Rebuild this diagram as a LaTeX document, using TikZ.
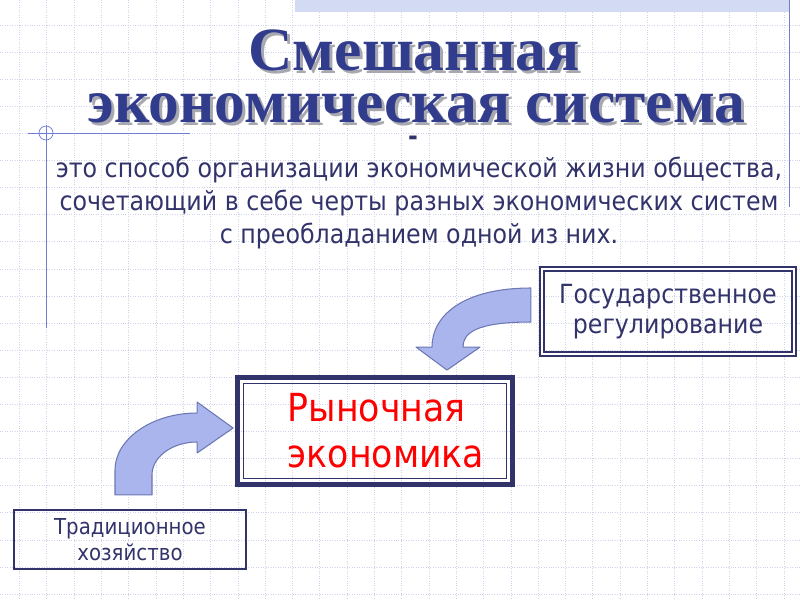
\documentclass[tikz,border=0pt]{standalone}
\usepackage{fontspec}
\setmainfont{DejaVu Sans}[FakeStretch=0.9]
\newfontfamily\headfont{Liberation Serif}
\usepackage{tikz}
\usetikzlibrary{positioning,calc}
\definecolor{SlideNavy}{HTML}{33336B}
\definecolor{SlideTitle}{HTML}{323C8C}
\definecolor{SlideShadow}{HTML}{A8A8B0}
\definecolor{SlideGrid}{HTML}{CFD2EA}
\definecolor{SlideRule}{HTML}{6E7ED6}
\definecolor{SlideBand}{HTML}{D3DAF4}
\definecolor{ArrowFill}{HTML}{A9B5EC}
\definecolor{ArrowEdge}{HTML}{6C78B4}
\definecolor{MarketRed}{HTML}{FF0000}

\begin{document}
\begin{tikzpicture}[x=0.02cm,y=-0.02cm,
    titletext/.style={font=\headfont\bfseries\fontsize{35}{40}\selectfont,anchor=base,inner sep=0pt},
    bodytext/.style={text=SlideNavy,align=center,inner sep=0pt},
    blockarrow/.style={fill=ArrowFill,draw=ArrowEdge,line width=0.6pt,line join=round}]

  % Background sheet with dotted grid
  \useasboundingbox (0,0) rectangle (800,600);
  \fill[white] (0,0) rectangle (800,600);
  \foreach \i in {0,...,28}
    \draw[SlideGrid,densely dotted] ({19.5+27.3*\i},0) -- ({19.5+27.3*\i},600);
  \foreach \j in {0,...,21}
    \draw[SlideGrid,densely dotted] (0,{25+27.1*\j}) -- (800,{25+27.1*\j});

  % Top band and thin rules
  \fill[SlideBand] (295,0) rectangle (789,12);
  \draw[SlideRule] (789,0) -- (789,207);
  \draw[SlideRule] (28,133) -- (190,133);
  \draw[SlideRule] (46,125) -- (46,328);
  \draw[SlideRule] (46,133) circle [radius=7];

  % Title with shadow
  \node[titletext,text=SlideShadow] (titleAs) at (417,73) {Смешанная};
  \node[titletext,text=SlideTitle] (titleA) at (414,70) {Смешанная};
  \node[titletext,text=SlideShadow] (titleBs) at (419.5,125) {экономическая система};
  \node[titletext,text=SlideTitle] (titleB) at (416.5,122) {экономическая система};

  % Definition
  \node[bodytext,font=\bfseries\fontsize{15}{17}\selectfont] (dash) at (413,141) {-};
  \node[bodytext,anchor=base,font=\fontsize{15}{18.6}\selectfont] (defn) at (419,243)
    {это способ организации экономической жизни общества,\\
     сочетающий в себе черты разных экономических систем\\
     с преобладанием одной из них.};

  % Boxes
  \node[bodytext,draw=SlideNavy,double=white,line width=1pt,double distance=1.2pt,
    minimum width=5.05cm,minimum height=1.7cm,font=\fontsize{15}{17}\selectfont] (gov) at (668,311.5)
    {Государственное\hspace{0.35cm}\\регулирование\hspace{0.35cm}};
  \node[draw=SlideNavy,line width=2.8pt,minimum width=5.5cm,minimum height=2.14cm,
    align=left,text=MarketRed,font=\fontsize{22}{26}\selectfont] (market) at (375,431)
    {\hspace{0.44cm}Рыночная\\\hspace{0.44cm}экономика};
  \draw[SlideNavy,line width=0.6pt] ($(market.north west)+(8.5,8.5)$) rectangle ($(market.south east)+(-8.5,-8.5)$);
  \node[bodytext,draw=SlideNavy,line width=1.2pt,minimum width=4.64cm,minimum height=1.18cm,
    font=\fontsize{12.5}{14.8}\selectfont] (trad) at (130,539.5)
    {Традиционное\\хозяйство};

  % Block arrows
  \coordinate (gtail) at ($(gov.west)+(-10,-6.5)$);
  \coordinate (gtip) at ($(market.north)+(72,-5)$);
  \draw[blockarrow] ($(gtail)+(0,-17)$) .. controls ($(gtail)+(-67,-17)$) and ($(gtip)+(-15,-55)$) .. ($(gtip)+(-15,-23)$)
    -- ($(gtip)+(-31,-23)$) -- (gtip) -- ($(gtip)+(33,-23)$) -- ($(gtip)+(16,-23)$)
    .. controls ($(gtip)+(16,-37)$) and ($(gtail)+(-55,17)$) .. ($(gtail)+(0,17)$) -- cycle;

  \coordinate (ttail) at ($(trad.north)+(3.5,-14)$);
  \coordinate (ttip) at ($(market.west)+(-2,-3)$);
  \draw[blockarrow] ($(ttail)+(-18.5,0)$) -- ($(ttail)+(-18.5,-25)$)
    .. controls ($(ttail)+(-18.5,-56)$) and ($(ttip)+(-81,-15)$) .. ($(ttip)+(-36,-15)$)
    -- ($(ttip)+(-36,-26)$) -- (ttip) -- ($(ttip)+(-36,25)$) -- ($(ttip)+(-36,14)$)
    .. controls ($(ttip)+(-61,14)$) and ($(ttail)+(18.5,-38)$) .. ($(ttail)+(18.5,-20)$)
    -- ($(ttail)+(18.5,0)$) -- cycle;
\end{tikzpicture}
\end{document}
